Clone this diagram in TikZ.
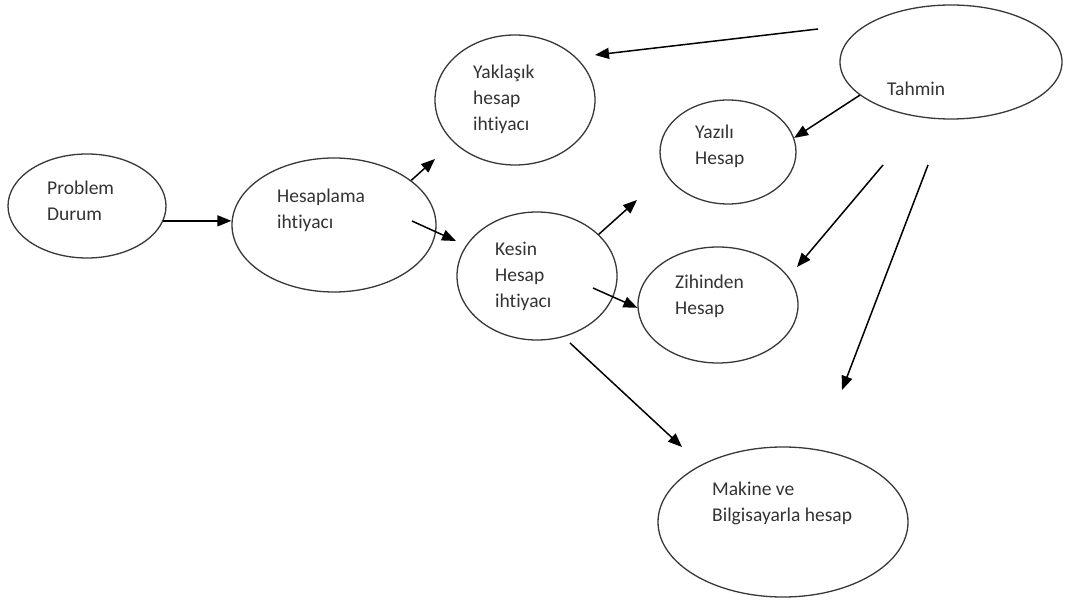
\documentclass[tikz,border=0pt]{standalone}
\usepackage{fontspec}
\setmainfont{Carlito}[Ligatures=NoCommon]
\usetikzlibrary{shapes.geometric,arrows.meta}
\begin{document}
\begin{tikzpicture}[x=1pt,y=-1pt,
  ell/.style={draw=black!78, line width=1.3pt, ellipse, inner sep=0pt},
  txt/.style={anchor=west, align=left, inner sep=0pt, text=black!80, font=\fontsize{19.5}{26}\selectfont},
  arr/.style={draw=black, line width=1.5pt, -{Triangle[length=14pt,width=11pt]}}]
\useasboundingbox[fill=white] (0,0) rectangle (1065,601);
% ellipses
\node[ell, minimum width=158pt, minimum height=104pt] (PD) at (87,206) {};
\node[ell, minimum width=204pt, minimum height=134pt] (HI) at (334,225) {};
\node[ell, minimum width=160pt, minimum height=130pt] (YH) at (515,100) {};
\node[ell, minimum width=222pt, minimum height=114pt] (TA) at (951,62) {};
\node[ell, minimum width=136pt, minimum height=104pt] (YZ) at (728,152) {};
\node[ell, minimum width=160pt, minimum height=128pt] (KH) at (537,276) {};
\node[ell, minimum width=160pt, minimum height=116pt] (ZH) at (718,305) {};
\node[ell, minimum width=250pt, minimum height=150pt] (MB) at (783,522) {};
% texts
\node[txt] (tPD) at (47,201) {Problem\\Durum};
\node[txt] (tHI) at (277,210) {Hesaplama\\ihtiyacı};
\node[txt] (tYH) at (473,99) {Yaklaşık\\hesap\\ihtiyacı};
\node[txt] (tTA) at (887,89) {Tahmin};
\node[txt] (tYZ) at (695,146) {Yazılı\\Hesap};
\node[txt] (tKH) at (495,276) {Kesin\\Hesap\\ihtiyacı};
\node[txt] (tZH) at (675,296) {Zihinden\\Hesap};
\node[txt] (tMB) at (712,503) {Makine ve\\Bilgisayarla hesap};
% free ends of connectors
\coordinate (hyT) at (435,159);
\coordinate (hkS) at (412,221);
\coordinate (hkT) at (456,241);
\coordinate (kyT) at (637,200);
\coordinate (kzS) at (593,288);
\coordinate (kmS) at (570,343);
\coordinate (kmT) at (682,447);
\coordinate (tyS) at (818,29);
\coordinate (tyT) at (595,55);
\coordinate (tzS) at (883,165);
\coordinate (tzT) at (797,267);
\coordinate (tmS) at (928,165);
\coordinate (tmT) at (842,390);
% connectors
\draw[arr] (PD.-11) -- (PD.-11 -| HI.west);
\draw[arr] (HI.30) -- (hyT);
\draw[arr] (hkS) -- (hkT);
\draw[arr] (KH.34) -- (kyT);
\draw[arr] (kzS) -- (ZH.182);
\draw[arr] (kmS) -- (kmT);
\draw[arr] (tyS) -- (tyT);
\draw[arr] (TA.200) -- (YZ.12);
\draw[arr] (tzS) -- (tzT);
\draw[arr] (tmS) -- (tmT);
\end{tikzpicture}
\end{document}
